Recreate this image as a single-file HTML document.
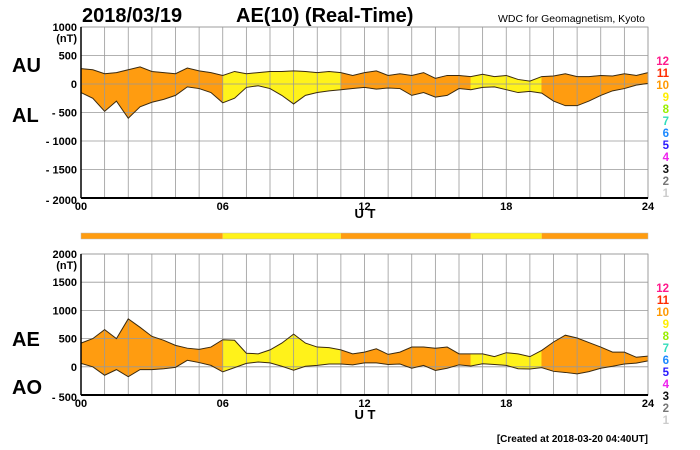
<!DOCTYPE html>
<html><head><meta charset="utf-8"><style>
body{margin:0;background:#fff}
svg{display:block;font-family:"Liberation Sans",Arial,sans-serif;font-weight:bold}
</style></head><body>
<svg id="c" width="700" height="450" xmlns="http://www.w3.org/2000/svg">
<text x="82" y="22" font-size="20">2018/03/19</text>
<text x="236" y="22" font-size="20">AE(10) (Real-Time)</text>
<text x="645" y="22" font-size="10.5" font-weight="normal" text-anchor="end">WDC for Geomagnetism, Kyoto</text>
<text x="12" y="72" font-size="20">AU</text>
<text x="12" y="122" font-size="20">AL</text>
<text x="12" y="346" font-size="20">AE</text>
<text x="12" y="394" font-size="20">AO</text>
<text x="365" y="218" font-size="13" text-anchor="middle">U T</text>
<text x="365" y="419" font-size="13" text-anchor="middle">U T</text>
<text x="648" y="442" font-size="10" text-anchor="end">[Created at 2018-03-20 04:40UT]</text>
<g id="g"></g>
</svg>
<script>
const hours=[0,0.5,1,1.5,2,2.5,3,3.5,4,4.5,5,5.5,6,6.5,7,7.5,8,8.5,9,9.5,10,10.5,11,11.5,12,12.5,13,13.5,14,14.5,15,15.5,16,16.5,17,17.5,18,18.5,19,19.5,20,20.5,21,21.5,22,22.5,23,23.5,24];
const au=[270,250,180,200,250,300,220,200,180,280,230,200,150,220,180,200,220,220,230,220,200,220,200,150,200,230,150,180,150,200,100,150,150,130,170,130,150,80,50,130,140,180,130,130,150,140,180,150,200];
const al=[-150,-250,-480,-300,-600,-400,-320,-270,-200,-50,-80,-150,-330,-250,-60,-30,-80,-200,-350,-200,-150,-120,-100,-80,-60,-90,-70,-80,-200,-150,-230,-200,-80,-100,-60,-50,-100,-150,-130,-160,-300,-380,-380,-300,-200,-120,-80,-20,10];
const levelStarts=[0,6,11,16.5,19.5];
const levelEnds=[6,11,16.5,19.5,24];
const levels=[10,9,10,9,10];
const topTicks=[1000,500,0,-500,-1000,-1500,-2000];
const botTicks=[2000,1500,1000,500,0,-500];
const xTicks=["00","06","12","18","24"];
const legendNums=[12,11,10,9,8,7,6,5,4,3,2,1];
const legendCols=["#ff1a8c","#ff2a00","#ff9900","#ffee00","#99ee00","#33ddbb","#1a88ff","#2a1aff","#ee22ee","#111","#777","#ccc"];
const fillCol={10:"#ff9c10",9:"#fff21a"};
const NS="http://www.w3.org/2000/svg";
const g=document.getElementById('g');
const X0=81,X1=648;
const xs=h=>X0+(X1-X0)*h/24;
function mk(t,a,p){const e=document.createElementNS(NS,t);for(const k in a)e.setAttribute(k,a[k]);(p||g).appendChild(e);return e;}
function interp(arr,h){for(let j=0;j<hours.length-1;j++){if(h>=hours[j]&&h<=hours[j+1]){const f=(h-hours[j])/(hours[j+1]-hours[j]);return arr[j]+(arr[j+1]-arr[j])*f;}}return arr[arr.length-1];}
function panel(top,bot,vmax,vmin,ticks,upper,lower,nm){
  const ys=v=>top+(bot-top)*(vmax-v)/(vmax-vmin);
  const grp=mk('g',{});
  
  
  levelStarts.forEach((s,i)=>{
    const e=levelEnds[i];
    const hs=[s];hours.forEach(h=>{if(h>s&&h<e)hs.push(h);});hs.push(e);
    const pts=hs.map(h=>xs(h)+','+ys(interp(upper,h)));
    hs.slice().reverse().forEach(h=>pts.push(xs(h)+','+ys(interp(lower,h))));
    const p=mk('polygon',{points:pts.join(' '),fill:fillCol[levels[i]],stroke:fillCol[levels[i]],'stroke-width':0.5},grp);
    
    
  });
  for(let h=0;h<=24;h++)mk('line',{x1:xs(h),x2:xs(h),y1:top,y2:bot,stroke:'#999','stroke-width':0.8},grp);
  ticks.forEach(v=>{mk('line',{x1:X0,x2:X1,y1:ys(v),y2:ys(v),stroke:'#999','stroke-width':0.8},grp);
    const t=mk('text',{x:X0-4,y:ys(v)+(v===vmin?6:4),'font-size':11,'text-anchor':'end'},grp);
    t.textContent=v<0?'- '+(-v):String(v);
    
    
  });
  const u=mk('text',{x:X0-4,y:ys(vmax)+15,'font-size':11,'text-anchor':'end'},grp);u.textContent='(nT)';
  [upper,lower].forEach((arr,k)=>{
    const l=mk('polyline',{points:hours.map((h,j)=>xs(h)+','+ys(arr[j])).join(' '),fill:'none',stroke:'#3a2a10','stroke-width':1},grp);
    
    
  });
  mk('rect',{x:X0,y:top,width:X1-X0,height:bot-top,fill:'none',stroke:'#999','stroke-width':0.8},grp);
  mk('line',{x1:X0,x2:X1,y1:bot,y2:bot,stroke:'#000','stroke-width':2},grp);
  mk('line',{x1:X0,x2:X0,y1:top,y2:bot,stroke:'#000','stroke-width':1.5},grp);
  xTicks.forEach((s,i)=>{const t=mk('text',{x:xs(i*6),y:bot+12,'font-size':11,'text-anchor':'middle'},grp);t.textContent=s;
    
    });
  legendNums.forEach((n,i)=>{const t=mk('text',{x:669,y:top+38+i*12,'font-size':11.5,'text-anchor':'end',fill:legendCols[i]},grp);t.textContent=n;
    
    });
}
panel(27,198,1000,-2000,topTicks,au,al,'au-al');
const ae=au.map((v,i)=>v-al[i]);
const ao=au.map((v,i)=>(v+al[i])/2);
panel(254,395,2000,-500,botTicks,ae,ao,'ae-ao');
levelStarts.forEach((s,i)=>{
  const r=mk('rect',{x:xs(s),y:233,width:xs(levelEnds[i])-xs(s),height:6,fill:fillCol[levels[i]]});
  
  
});
mk('rect',{x:X0,y:233,width:X1-X0,height:6,fill:'none',stroke:'#bbb','stroke-width':0.5});
</script>
</body></html>
